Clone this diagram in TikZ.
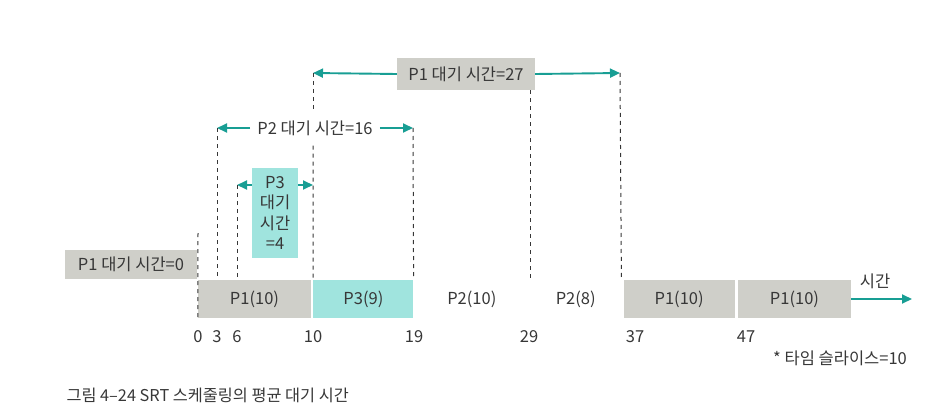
\documentclass[tikz,border=0pt]{standalone}
\usepackage{fontspec}
\setmainfont{Noto Sans CJK KR}
\usetikzlibrary{arrows.meta,positioning}
\definecolor{barGray}{RGB}{207,207,201}
\definecolor{waitCyan}{RGB}{160,228,222}
\definecolor{arrowTeal}{RGB}{24,158,148}
\definecolor{inkGray}{RGB}{55,55,55}
\tikzset{
  txt/.style   = {text=inkGray, font=\fontsize{16.5}{20.5}\selectfont},
  bar/.style   = {txt, minimum height=38pt, inner sep=0pt},
  pale/.style  = {fill=barGray},
  aqua/.style  = {fill=waitCyan},
  line/.style  = {-{Triangle[length=10pt,width=9pt]}, line width=1.9pt, arrowTeal},
  guide/.style = {dash pattern=on 4pt off 4pt, line width=1pt, inkGray},
}

\begin{document}
\begin{tikzpicture}[x=1pt,y=-1pt,node distance=0pt]
  \useasboundingbox (0,0) rectangle (925,417);
  % timeline
  \node[bar,pale,minimum width=113pt] (p1a) at (254.5,299) {P1(10)};
  \node[bar,aqua,minimum width=100pt,right=2pt of p1a] (p3) {P3(9)};
  \node[bar,minimum width=116pt,right=of p3] (p2a) {P2(10)};
  \node[bar,minimum width=91pt,right=of p2a] (p2b) {P2(8)};
  \node[bar,pale,minimum width=111pt,right=2pt of p2b] (p1b) {P1(10)};
  \node[bar,pale,minimum width=113pt,right=3pt of p1b] (p1c) {P1(10)};
  \coordinate (tEnd) at (912,299);
  \draw[line] (p1c.east) -- (tEnd);
  \node[txt] (timeLbl) at (875,281) {시간};
  \foreach \t/\x in {0/198,3/217,6/237,10/313,19/414,29/529,37/635,47/746}
    \node[txt,inner sep=0pt] (n\t) at (\x,337) {\t};

  % waiting times
  \node[txt,pale,minimum width=132pt,minimum height=29pt] (w0) at (131,264.5) {P1 대기 시간=0};
  \node[txt,pale,minimum width=138pt,minimum height=32pt] (w1) at (466,74) {P1 대기 시간=27};
  \node[txt,inner xsep=7pt,inner ysep=10pt] (w2) at (315,128) {P2 대기 시간=16};
  \node[txt,aqua,align=center,inner sep=0pt,minimum width=46pt,minimum height=90pt] (w3) at (275,213) {P3\\대기\\시간\\=4};

  \coordinate (g0) at (198,233);
  \coordinate (a1l) at (313,73);
  \coordinate (a1r) at (620,73);
  \coordinate (a2l) at (217,128);
  \coordinate (a2r) at (413,128);
  \coordinate (a3l) at (237,185);
  \coordinate (a3r) at (313,185);

  \draw[line] (w1.west) -- (a1l);
  \draw[line] (w1.east) -- (a1r);
  \draw[line] (w2.west) -- (a2l);
  \draw[line] (w2.east) -- (a2r);
  \draw[line] (w3.west |- a3l) -- (a3l);
  \draw[line] (w3.east |- a3r) -- (a3r);

  % guides
  \draw[guide] (g0) -- (p1a.south west);
  \draw[guide] (a2l) -- (a2l |- p1a.north);
  \draw[guide] (a3l) -- (a3l |- p1a.north);
  \draw[guide] (a1l) -- (w2.north -| a1l);
  \draw[guide] (w2.south -| a1l) -- (p3.north west);
  \draw[guide] (a2r) -- (p3.north east);
  \draw[guide] (w1.south -| p2b.west) -- (p2b.north west);
  \draw[guide] (a1r) -- (p2b.north east);

  \node[txt] (slice) at (840,358) {* 타임 슬라이스=10};
  \node[txt,anchor=west,font=\fontsize{16.3}{19}\selectfont] (cap) at (63,395) {그림 4–24 SRT 스케줄링의 평균 대기 시간};
\end{tikzpicture}
\end{document}
